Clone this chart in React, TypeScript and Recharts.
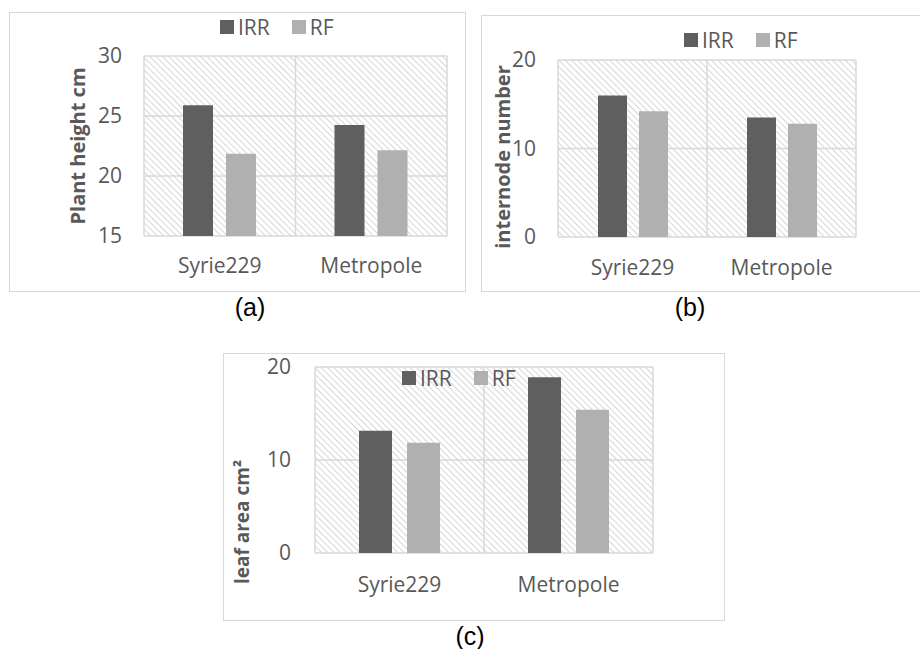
import React from 'react';
import { BarChart, Bar, XAxis, YAxis, CartesianGrid, Legend } from 'recharts';

const categories = ['Syrie229', 'Metropole'];
const seriesNames = ['IRR', 'RF'];

const heightIRR = [25.9, 24.25];
const heightRF = [21.85, 22.15];
const heightTicks = [15, 20, 25, 30];

const internodeIRR = [16.0, 13.5];
const internodeRF = [14.2, 12.8];
const internodeTicks = [0, 10, 20];

const leafIRR = [13.15, 18.9];
const leafRF = [11.85, 15.4];
const leafTicks = [0, 10, 20];

const COLORS = { IRR: '#5f5f5f', RF: '#b0b0b0' };
const TEXT = '#595959';
const GRID = '#d9d9d9';
const FONT = '"Open Sans", "Noto Sans", sans-serif';

const buildData = (irr: number[], rf: number[]) =>
  categories.map((name, i) => ({ name, [seriesNames[0]]: irr[i], [seriesNames[1]]: rf[i] }));

const heightData = buildData(heightIRR, heightRF);
const internodeData = buildData(internodeIRR, internodeRF);
const leafData = buildData(leafIRR, leafRF);

const LegendContent = (props: any) => {
  const payload = props.payload || [];
  return (
    <div style={{ display: 'flex', alignItems: 'center', fontFamily: FONT, fontSize: 21, color: TEXT, lineHeight: '24px', height: 24 }}>
      {payload.map((e: any, i: number) => (
        <div key={i} style={{ display: 'flex', alignItems: 'center', marginRight: i < payload.length - 1 ? 22 : 0 }}>
          <span style={{ display: 'inline-block', width: 14, height: 14, background: e.color, marginRight: 4 }} />
          <span>{e.value}</span>
        </div>
      ))}
    </div>
  );
};

const makeYTitle = (text: string, cx: number, cy: number, size: number) => () => (
  <text
    x={cx}
    y={cy}
    transform={`rotate(-90 ${cx} ${cy})`}
    textAnchor="middle"
    dominantBaseline="central"
    fill={TEXT}
    fontWeight="bold"
    fontSize={size}
    fontFamily={FONT}
  >
    {text}
  </text>
);

const vGen = (p: any) => {
  const o = p && p.offset ? p.offset : { left: 0, width: 0 };
  return [o.left, o.left + o.width / 2, o.left + o.width];
};

type PanelProps = {
  id: string;
  data: any[];
  width: number;
  height: number;
  margin: { top: number; right: number; bottom: number; left: number };
  yWidth: number;
  domain: [number, number];
  ticks: number[];
  yTickMargin: number;
  xTickMargin: number;
  barSize: number;
  barGap: number;
  title: string;
  titleX: number;
  titleY: number;
  titleSize: number;
  legendLeft: number;
  legendTop: number;
};

const Panel = (p: PanelProps) => {
  const tickStyle = { fill: TEXT, fontSize: 21, fontFamily: FONT };
  return (
    <BarChart width={p.width} height={p.height} data={p.data} margin={p.margin} barGap={p.barGap}>
      <defs>
        <pattern id={p.id} patternUnits="userSpaceOnUse" width="4.5" height="4.5" patternTransform="rotate(-45)">
          <rect x="0" y="0" width="4.5" height="4.5" fill="#ffffff" />
          <line x1="0" y1="0" x2="0" y2="4.5" stroke="#d6d6d6" strokeWidth="2" />
        </pattern>
      </defs>
      <CartesianGrid
        stroke={GRID}
        strokeWidth={1.5}
        fill={`url(#${p.id})`}
        fillOpacity={1}
        verticalCoordinatesGenerator={vGen}
      />
      <XAxis
        dataKey="name"
        axisLine={false}
        tickLine={false}
        tickSize={0}
        tickMargin={p.xTickMargin}
        height={40}
        interval={0}
        tick={tickStyle}
      />
      <YAxis
        domain={p.domain}
        ticks={p.ticks}
        interval={0}
        axisLine={false}
        tickLine={false}
        tickSize={0}
        tickMargin={p.yTickMargin}
        width={p.yWidth}
        tick={tickStyle}
        label={makeYTitle(p.title, p.titleX, p.titleY, p.titleSize)}
      />
      <Legend
        layout="horizontal"
        verticalAlign="middle"
        align="center"
        content={LegendContent}
        wrapperStyle={{ left: p.legendLeft, top: p.legendTop, width: 200, height: 24 }}
      />
      <Bar dataKey={seriesNames[0]} fill={COLORS.IRR} barSize={p.barSize} isAnimationActive={false} />
      <Bar dataKey={seriesNames[1]} fill={COLORS.RF} barSize={p.barSize} isAnimationActive={false} />
    </BarChart>
  );
};

const boxStyle = (left: number, top: number, width: number, height: number): React.CSSProperties => ({
  position: 'absolute',
  left,
  top,
  width,
  height,
  boxSizing: 'border-box',
  border: `1.5px solid ${GRID}`,
});

const capStyle = (cx: number, top: number): React.CSSProperties => ({
  position: 'absolute',
  left: cx - 40,
  width: 80,
  top,
  textAlign: 'center',
  fontFamily: '"Liberation Sans", Arial, sans-serif',
  fontSize: 25,
  lineHeight: '25px',
  color: '#000',
});

export default function App() {
  return (
    <div style={{ position: 'absolute', left: 0, top: 0, width: 920, height: 649, background: '#fff', overflow: 'hidden' }}>
      <div style={boxStyle(9, 12, 457, 280)} />
      <div style={boxStyle(481, 15, 450, 277)} />
      <div style={boxStyle(223, 353, 502, 268)} />

      <div style={{ position: 'absolute', left: 9, top: 12 }}>
        <Panel
          id="hatchA"
          data={heightData}
          width={455}
          height={279}
          margin={{ top: 44, right: 17, bottom: 15, left: 75 }}
          yWidth={60}
          domain={[15, 30]}
          ticks={heightTicks}
          yTickMargin={22}
          xTickMargin={22}
          barSize={30}
          barGap={13}
          title="Plant height cm"
          titleX={68}
          titleY={134}
          titleSize={20}
          legendLeft={211}
          legendTop={3}
        />
      </div>

      <div style={{ position: 'absolute', left: 481, top: 15 }}>
        <Panel
          id="hatchB"
          data={internodeData}
          width={439}
          height={276}
          margin={{ top: 45, right: 64, bottom: 14, left: 27 }}
          yWidth={50}
          domain={[0, 20]}
          ticks={internodeTicks}
          yTickMargin={22}
          xTickMargin={23}
          barSize={29}
          barGap={12}
          title="internode number"
          titleX={21}
          titleY={142}
          titleSize={20}
          legendLeft={203}
          legendTop={13}
        />
      </div>

      <div style={{ position: 'absolute', left: 223, top: 353 }}>
        <Panel
          id="hatchC"
          data={leafData}
          width={500}
          height={267}
          margin={{ top: 14, right: 70, bottom: 27, left: 42 }}
          yWidth={50}
          domain={[0, 20]}
          ticks={leafTicks}
          yTickMargin={24}
          xTickMargin={24}
          barSize={33}
          barGap={15}
          title="leaf area cm²"
          titleX={19}
          titleY={169}
          titleSize={19}
          legendLeft={179}
          legendTop={13}
        />
      </div>

      <div style={capStyle(250, 295)}>(a)</div>
      <div style={capStyle(690, 295)}>(b)</div>
      <div style={capStyle(470, 624)}>(c)</div>
    </div>
  );
}
